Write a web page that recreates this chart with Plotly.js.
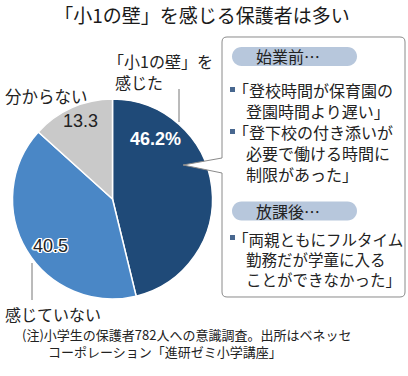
<!DOCTYPE html>
<html>
<head>
<meta charset="utf-8">
<script src="https://cdn.plot.ly/plotly-3.0.1.min.js"></script>
<style>html,body{margin:0;padding:0;background:#fff;}#chart{width:408px;height:376px;}</style>
</head>
<body>
<div id="chart"></div>
<script>
// ---- data ----
const chartTitle = "「小1の壁」を感じる保護者は多い";
const categories = ["「小1の壁」を感じた", "感じていない", "分からない"];
const shares = [46.2, 40.5, 13.3];
const categoryLines = [["「小1の壁」を", "感じた"], ["感じていない"], ["分からない"]];
const headings = ["始業前…", "放課後…"];
const reasons = [
  ["「登校時間が保育園の", "登園時間より遅い」"],
  ["「登下校の付き添いが", "必要で働ける時間に", "制限があった」"],
  ["「両親ともにフルタイム", "勤務だが学童に入る", "ことができなかった」"]
];
const noteLines = ["(注)小学生の保護者782人への意識調査。出所はベネッセ", "コーポレーション「進研ゼミ小学講座」"];

// ---- layout helpers ----
const W = 408, H = 376;
const X = px => px / W;
const Y = py => 1 - py / H;
const JP = '"Noto Sans CJK JP", "Noto Sans", sans-serif';
const NUM = '"Liberation Sans", Arial, sans-serif';
const TXT = '#222222';

function path(cmds) {
  return cmds.map(c => {
    const L = c[0];
    const pts = [];
    for (let i = 1; i < c.length; i += 2) pts.push(X(c[i]).toFixed(5) + ',' + Y(c[i + 1]).toFixed(5));
    return L + pts.join(' ');
  }).join(' ');
}
function pill(x0, y0, x1, y1) {
  const r = (y1 - y0) / 2, k = 0.5523 * r, cy = (y0 + y1) / 2;
  return path([
    ['M', x0 + r, y0], ['L', x1 - r, y0],
    ['C', x1 - r + k, y0, x1, cy - k, x1, cy],
    ['C', x1, cy + k, x1 - r + k, y1, x1 - r, y1],
    ['L', x0 + r, y1],
    ['C', x0 + r - k, y1, x0, cy + k, x0, cy],
    ['C', x0, cy - k, x0 + r - k, y0, x0 + r, y0], ['Z']
  ]);
}

const annotations = [];
function txt(text, x, y, size, opts) {
  opts = opts || {};
  annotations.push({
    text: text, x: X(x), y: Y(y), xref: 'paper', yref: 'paper',
    xanchor: opts.anchor || 'left', yanchor: 'middle', align: 'left', showarrow: false, borderpad: 0,
    xshift: opts.dx || 0, yshift: opts.dy || 0,
    font: Object.assign({family: opts.family || JP, size: size, color: opts.color || TXT}, opts.font || {})
  });
}

// category labels around pie
txt(categoryLines[0][0], 107, 61, 16);
txt(categoryLines[0][1], 114, 82, 16);
txt(categoryLines[2][0], 4, 96, 16.5);
txt(categoryLines[1][0], 4, 314, 16);

// value labels
const valueText = shares.map((v, i) => v.toFixed(1) + (i === 0 ? '%' : ''));
txt(valueText[0], 155, 139, 18, {anchor: 'center', family: NUM, color: '#ffffff', font: {weight: 'bold'}});
// white halo behind the 40.5 label
[[-1.3, 0], [1.3, 0], [0, -1.3], [0, 1.3], [-1, -1], [1, -1], [-1, 1], [1, 1]].forEach(o => {
  txt(valueText[1], 50, 246, 18, {anchor: 'center', family: NUM, color: '#ffffff', dx: o[0], dy: o[1]});
});
txt(valueText[1], 50, 246, 18, {anchor: 'center', family: NUM, color: TXT});
txt(valueText[2], 80, 121, 18, {anchor: 'center', family: NUM, color: TXT});

// box contents
txt(headings[0], 288, 56.5, 16, {anchor: 'center'});
txt(headings[1], 288, 211, 16, {anchor: 'center'});
const blockY = [100, 153, 258.5];
const blockSize = [16, 16, 15.5];
const indent = '<span style="font-size:13px">\u3000</span>';
reasons.forEach((lines, s) => {
  const t = lines[0] + lines.slice(1).map(l => '<br>' + indent + l).join('');
  txt(t, 232, blockY[s], blockSize[s]);
});

// footnote
txt(noteLines[0] + '<br>\u3000\u3000' + noteLines[1], 21, 343, 13);

const shapes = [
  {type: 'path', xref: 'paper', yref: 'paper', fillcolor: '#ffffff', line: {color: '#8a8a8a', width: 1},
   path: path([
     ['M', 227, 37], ['L', 400, 37], ['Q', 405, 37, 405, 42], ['L', 405, 292], ['Q', 405, 297, 400, 297],
     ['L', 227, 297], ['Q', 222, 297, 222, 292], ['L', 222, 173], ['L', 183, 165], ['L', 222, 158],
     ['L', 222, 42], ['Q', 222, 37, 227, 37], ['Z']
   ])},
  {type: 'path', xref: 'paper', yref: 'paper', fillcolor: '#b7c7dc', line: {width: 0}, path: pill(232, 47, 357, 66)},
  {type: 'path', xref: 'paper', yref: 'paper', fillcolor: '#b7c7dc', line: {width: 0}, path: pill(232, 201.5, 357, 220.5)},
  {type: 'line', xref: 'paper', yref: 'paper', x0: X(179), x1: X(179), y0: Y(89), y1: Y(122), line: {color: '#777', width: 1}},
  {type: 'line', xref: 'paper', yref: 'paper', x0: X(32), x1: X(32), y0: Y(263), y1: Y(300), line: {color: '#777', width: 1}}
];
[90, 132, 238].forEach(by => {
  shapes.push({type: 'rect', xref: 'paper', yref: 'paper', x0: X(230), x1: X(235), y0: Y(by - 3), y1: Y(by + 2),
    fillcolor: '#48678f', line: {width: 0}});
});

const data = [{
  type: 'pie',
  labels: categories,
  values: shares,
  sort: false,
  direction: 'clockwise',
  rotation: 0,
  textinfo: 'none',
  hoverinfo: 'none',
  marker: {colors: ['#1f4a78', '#4a87c6', '#c9c9c9'], line: {color: '#ffffff', width: 1.5}},
  domain: {x: [X(12.5), X(212.5)], y: [1 - 299 / H, 1 - 99 / H]},
  showlegend: false
}];

const layout = {
  width: W, height: H,
  margin: {l: 0, r: 0, t: 0, b: 0},
  paper_bgcolor: '#ffffff',
  title: {text: chartTitle, x: X(202), xanchor: 'center', y: Y(16), yanchor: 'middle',
          font: {family: JP, size: 19, color: '#1a1a1a'}},
  shapes: shapes,
  annotations: annotations,
  showlegend: false
};

Plotly.newPlot('chart', data, layout, {displayModeBar: false, staticPlot: true});
</script>
</body>
</html>
